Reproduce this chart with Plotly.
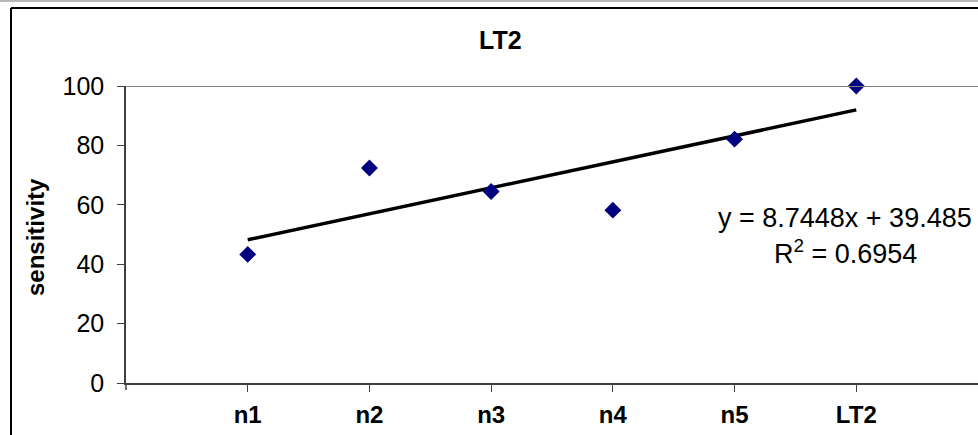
import plotly.graph_objects as go

# Sensitivity per sample
categories = ["n1", "n2", "n3", "n4", "n5", "LT2"]
sensitivity = [43.3, 72.4, 64.5, 58.2, 82.1, 100]

# Linear trendline coefficients and fit quality
slope = 8.7448
intercept = 39.485
r_squared = 0.6954

positions = list(range(1, len(categories) + 1))
trend_x = [positions[0], positions[-1]]
trend_y = [slope * x + intercept for x in trend_x]

FONT = "Liberation Sans, Arial, sans-serif"
W, H = 978, 435
L, R, T, B = 126, 0, 86, 52
plot_w = W - L - R
plot_h = H - T - B


def px_to_paper_x(px):
    return (px - L) / plot_w


def px_to_paper_y(py):
    return (H - B - py) / plot_h


fig = go.Figure()

fig.add_trace(go.Scatter(
    x=trend_x, y=trend_y, mode="lines",
    line=dict(color="black", width=3.5),
    hoverinfo="skip", showlegend=False,
))

fig.add_trace(go.Scatter(
    x=positions, y=sensitivity, mode="markers",
    marker=dict(symbol="diamond", size=13, color="#000080",
                line=dict(width=0)),
    cliponaxis=False, showlegend=False,
))

fig.update_layout(
    width=W, height=H,
    margin=dict(l=L, r=R, t=T, b=B, pad=0),
    paper_bgcolor="white", plot_bgcolor="white",
    font=dict(family=FONT, color="black"),
    showlegend=False,
    xaxis=dict(
        range=[0, 7], tickvals=positions, ticktext=categories,
        showgrid=False, zeroline=False,
        showline=True, linecolor="#404040", linewidth=1.5,
        ticks="outside", ticklen=7, tickcolor="#404040", tickwidth=1,
        tickfont=dict(family=FONT, size=24, color="black", weight="bold"),
        ticklabelstandoff=2,
        fixedrange=True,
    ),
    yaxis=dict(
        range=[0, 100], tickvals=[0, 20, 40, 60, 80, 100],
        showgrid=False, zeroline=False,
        showline=True, linecolor="#404040", linewidth=1.5,
        ticks="outside", ticklen=7, tickcolor="#404040", tickwidth=1,
        tickfont=dict(family=FONT, size=25, color="black"),
        ticklabelstandoff=8,
        fixedrange=True,
    ),
)

shapes = [
    # top edge of the plot area
    dict(type="line", xref="paper", yref="y", x0=0, x1=1, y0=100, y1=100,
         line=dict(color="#808080", width=2)),
    # y axis line continuing below the x axis
    dict(type="line", xref="paper", yref="paper", x0=0, x1=0,
         y0=0, y1=-7 / plot_h, line=dict(color="#404040", width=1.5)),
    # chart frame
    dict(type="line", xref="paper", yref="paper",
         x0=px_to_paper_x(11), x1=px_to_paper_x(W + 5),
         y0=px_to_paper_y(8), y1=px_to_paper_y(8),
         line=dict(color="black", width=2)),
    dict(type="line", xref="paper", yref="paper",
         x0=px_to_paper_x(11), x1=px_to_paper_x(11),
         y0=px_to_paper_y(8), y1=px_to_paper_y(H + 5),
         line=dict(color="black", width=2)),
    dict(type="line", xref="paper", yref="paper",
         x0=px_to_paper_x(-5), x1=px_to_paper_x(W + 5),
         y0=px_to_paper_y(1), y1=px_to_paper_y(1),
         line=dict(color="#a0a0a0", width=1.5)),
]
fig.update_layout(shapes=shapes)

annotations = [
    dict(text="<b>LT2</b>", xref="paper", yref="paper",
         x=px_to_paper_x(500), y=px_to_paper_y(40),
         xanchor="center", yanchor="middle", showarrow=False,
         font=dict(family=FONT, size=25, color="black")),
    dict(text="<b>sensitivity</b>", xref="paper", yref="paper",
         x=px_to_paper_x(35), y=px_to_paper_y(237), textangle=-90,
         xanchor="center", yanchor="middle", showarrow=False,
         font=dict(family=FONT, size=24, color="black")),
    dict(text=f"y = {slope}x + {intercept}", xref="paper", yref="paper",
         x=px_to_paper_x(845), y=px_to_paper_y(218),
         xanchor="center", yanchor="middle", showarrow=False,
         font=dict(family=FONT, size=27, color="black")),
    dict(text=f"R<sup>2</sup> = {r_squared}", xref="paper", yref="paper",
         x=px_to_paper_x(845), y=px_to_paper_y(252),
         xanchor="center", yanchor="middle", showarrow=False,
         font=dict(family=FONT, size=27, color="black")),
]
fig.update_layout(annotations=annotations)

fig.write_html("out.html", config={"displayModeBar": False})
